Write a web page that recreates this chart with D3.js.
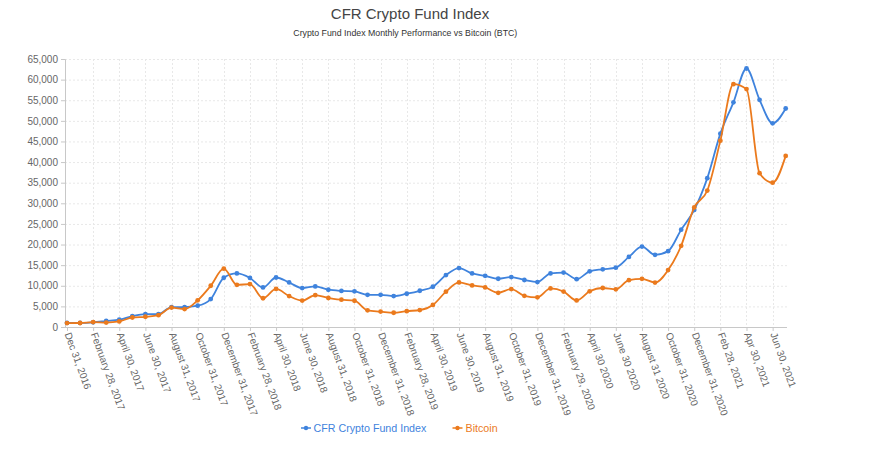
<!DOCTYPE html>
<html><head><meta charset="utf-8">
<script src="https://cdn.jsdelivr.net/npm/d3@7"></script>
<style>
html,body{margin:0;padding:0;background:#fff;}
svg{display:block;font-family:"Liberation Sans",Arial,sans-serif;}
</style></head>
<body><svg id="c" width="878" height="457"></svg>
<script>
const categories = [
 "Dec 31, 2016","Jan 31, 2017","February 28, 2017","Mar 31, 2017","April 30, 2017","May 31, 2017","June 30, 2017","Jul 31, 2017",
 "August 31, 2017","Sep 30, 2017","October 31, 2017","Nov 30, 2017","December 31, 2017","Jan 31, 2018","February 28, 2018","Mar 31, 2018",
 "April 30, 2018","May 31, 2018","June 30, 2018","Jul 31, 2018","August 31, 2018","Sep 30, 2018","October 31, 2018","Nov 30, 2018",
 "December 31, 2018","Jan 31, 2019","February 28, 2019","Mar 31, 2019","April 30, 2019","May 31, 2019","June 30, 2019","Jul 31, 2019",
 "August 31, 2019","Sep 30, 2019","October 31, 2019","Nov 30, 2019","December 31, 2019","Jan 31, 2020","February 29, 2020","Mar 31, 2020",
 "April 30 2020","May 31 2020","June 30 2020","Jul 31 2020","August 31 2020","Sep 30 2020","October 31, 2020","Nov 30, 2020",
 "December 31, 2020","Jan 31, 2021","Feb 28, 2021","Mar 31, 2021","Apr 30, 2021","May 31, 2021","Jun 30, 2021","Jul 31, 2021"
];
const fundValues = [
 1000,1000,1130,1450,1770,2650,3130,3130,4840,4840,5160,6780,
 11950,13000,11900,9600,12000,10800,9440,9850,9040,8750,8650,7800,
 7800,7500,8070,8790,9760,12600,14300,13000,12400,11700,12100,11400,
 10900,13000,13200,11600,13500,14000,14400,17000,19500,17500,18400,23600,
 28400,36100,46900,54500,62700,55100,49400,53000
];
const btcValues = [
 960,970,1190,1080,1350,2300,2480,2880,4700,4340,6470,10000,
 14150,10220,10400,6970,9240,7500,6400,7730,7030,6630,6370,4040,
 3740,3460,3850,4100,5350,8570,10800,10080,9600,8300,9200,7570,
 7200,9350,8600,6440,8660,9460,9140,11350,11680,10780,13800,19700,
 29000,33100,45200,58900,57700,37300,35000,41500
];
const yTicks = [0,5000,10000,15000,20000,25000,30000,35000,40000,45000,50000,55000,60000,65000];
const seriesNames = ["CFR Crypto Fund Index","Bitcoin"];
const colors = ["#3f83dd","#eb7a1d"];
const titleText = "CFR Crypto Fund Index";
const subtitleText = "Crypto Fund Index Monthly Performance vs Bitcoin (BTC)";

const svg = d3.select("#c");
const plotL = 65, plotR = 787, plotT = 59, plotB = 327;

const x = d3.scalePoint().domain(categories).range([67, 785.7]);
const y = d3.scaleLinear().domain([0, 65000]).range([plotB, plotT]);

// Title
svg.append("text").attr("x", 410).attr("y", 19).attr("text-anchor","middle")
  .attr("font-size", 15).attr("fill", "#444").text(titleText);
svg.append("text").attr("x", 405.3).attr("y", 35.5).attr("text-anchor","middle")
  .attr("font-size", 9.5).attr("fill", "#333")
  .attr("textLength", 224).attr("lengthAdjust","spacingAndGlyphs").text(subtitleText);

// grid
const shown = categories.filter((d,i)=> i % 2 === 0);
svg.append("g").selectAll("line").data(yTicks.slice(1)).join("line")
  .attr("x1", plotL).attr("x2", plotR).attr("y1", d=>y(d)+0.5).attr("y2", d=>y(d)+0.5)
  .attr("stroke", "#e8e8e8").attr("stroke-dasharray","2,2");
svg.append("g").selectAll("line").data(shown.slice(1)).join("line")
  .attr("x1", d=>Math.round(x(d))+0.5).attr("x2", d=>Math.round(x(d))+0.5).attr("y1", plotT).attr("y2", plotB)
  .attr("stroke", "#e8e8e8").attr("stroke-dasharray","2,2");

// y axis
const yAxis = d3.axisLeft(y).tickValues(yTicks).tickSize(4).tickPadding(3)
  .tickFormat(d3.format(","));
const gy = svg.append("g").attr("transform", `translate(${plotL},0)`).call(yAxis);
gy.select(".domain").attr("stroke","#c8c8c8");
gy.selectAll(".tick line").attr("stroke","#c8c8c8");
gy.selectAll(".tick text").attr("fill","#666").attr("font-size",10)
  .attr("font-family","Liberation Sans, Arial, sans-serif");

// x axis
const xAxis = d3.axisBottom(x).tickValues(shown).tickSize(4).tickSizeOuter(0);
const gx = svg.append("g").attr("transform", `translate(0,${plotB})`).call(xAxis);
gx.select(".domain").attr("stroke","#c8c8c8").attr("d", `M${plotL},0.5H${plotR}`);
gx.selectAll(".tick line").attr("stroke","#c8c8c8");
gx.selectAll(".tick text").attr("fill","#666").attr("font-size",10)
  .attr("font-family","Liberation Sans, Arial, sans-serif")
  .attr("text-anchor","start").attr("dy",null).attr("y",null)
  .attr("transform","translate(-3,7) rotate(70)");

// lines
const series = [fundValues, btcValues];
series.forEach((vals, si) => {
  const line = d3.line().x((d,i)=>x(categories[i])).y(d=>y(d)).curve(d3.curveMonotoneX);
  svg.append("path").datum(vals).attr("d", line).attr("fill","none")
    .attr("stroke", colors[si]).attr("stroke-width", 1.8);
  svg.append("g").selectAll("circle").data(vals).join("circle")
    .attr("cx",(d,i)=>x(categories[i])).attr("cy", d=>y(d)).attr("r", 2.4)
    .attr("fill", colors[si]);
});

// legend
const legendItems = [{x:301, tx:313.5}, {x:452.5, tx:465.5}];
legendItems.forEach((it, si) => {
  const g = svg.append("g");
  g.append("line").attr("x1", it.x).attr("x2", it.x+10).attr("y1", 428).attr("y2", 428)
    .attr("stroke", colors[si]).attr("stroke-width", 1.5);
  g.append("circle").attr("cx", it.x+5).attr("cy", 428).attr("r", 2.2).attr("fill", colors[si]);
  g.append("text").attr("x", it.tx).attr("y", 432).attr("font-size", 10.7)
    .attr("fill", colors[si]).text(seriesNames[si]);
});
</script></body></html>
